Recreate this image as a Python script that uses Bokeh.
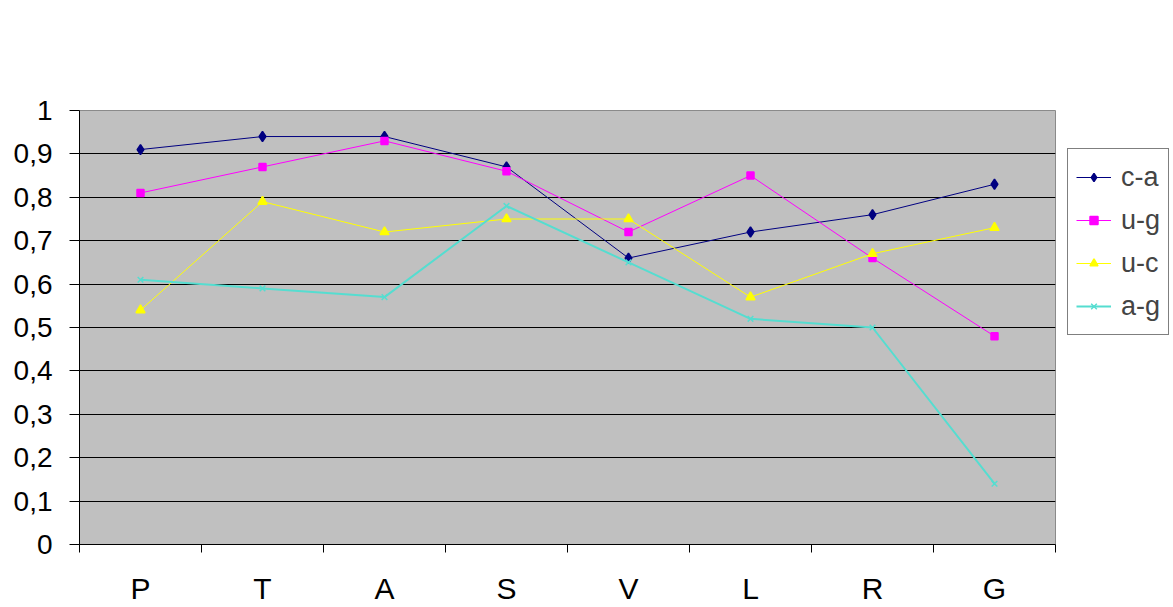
from bokeh.plotting import figure
from bokeh.models import (FixedTicker, CustomJSTickFormatter, Legend, LegendItem, Range1d)
from bokeh.embed import file_html
from bokeh.resources import INLINE

categories = ["P", "T", "A", "S", "V", "L", "R", "G"]
ca = [0.91, 0.94, 0.94, 0.87, 0.66, 0.72, 0.76, 0.83]
ug = [0.81, 0.87, 0.93, 0.86, 0.72, 0.85, 0.66, 0.48]
uc = [0.54, 0.79, 0.72, 0.75, 0.75, 0.57, 0.67, 0.73]
ag = [0.61, 0.59, 0.57, 0.78, 0.65, 0.52, 0.50, 0.14]
series_names = ["c-a", "u-g", "u-c", "a-g"]
y_ticks = [0, 0.1, 0.2, 0.3, 0.4, 0.5, 0.6, 0.7, 0.8, 0.9, 1.0]

n = len(categories)
xs = [i + 0.5 for i in range(n)]
bounds = list(range(n + 1))

FONT = "Liberation Sans"

p = figure(frame_width=976, frame_height=434, output_backend="svg", toolbar_location=None,
           x_range=Range1d(0, n), y_range=Range1d(0, 1),
           min_border_left=79, min_border_top=110, min_border_right=118, min_border_bottom=63,
           background_fill_color="#C0C0C0", border_fill_color="white",
           outline_line_color="#8a8a8a")

# x axis: labels at centres, tick marks at category boundaries
xa = p.xaxis[0]
xa.ticker = FixedTicker(ticks=xs, minor_ticks=bounds)
xa.formatter = CustomJSTickFormatter(args=dict(cats=categories),
                                     code="return cats[Math.floor(tick)];")
xa.major_tick_line_color = None
xa.major_tick_out = 0
xa.major_tick_in = 0
xa.minor_tick_line_color = "black"
xa.minor_tick_out = 8
xa.minor_tick_in = 0
xa.axis_line_color = "black"
xa.major_label_text_font = FONT
xa.major_label_text_font_size = "30px"
xa.major_label_text_color = "black"
xa.major_label_standoff = 19

ya = p.yaxis[0]
ya.ticker = FixedTicker(ticks=y_ticks)
ya.formatter = CustomJSTickFormatter(code="var s=(Math.round(tick*10)/10).toString(); return s.replace('.', ',');")
ya.major_tick_out = 10
ya.major_tick_in = 0
ya.minor_tick_line_color = None
ya.axis_line_color = "black"
ya.major_tick_line_color = "black"
ya.major_label_text_font = FONT
ya.major_label_text_font_size = "28px"
ya.major_label_text_color = "black"
ya.major_label_standoff = 17

p.xgrid.grid_line_color = None
p.ygrid.ticker = FixedTicker(ticks=y_ticks[1:-1])
p.ygrid.grid_line_color = "black"
p.ygrid.grid_line_width = 1

styles = [
    dict(color="#000080", marker="diamond", size=10, lw=1),
    dict(color="#FF00FF", marker="square", size=7, lw=1),
    dict(color="#FFFF00", marker="triangle", size=9, lw=1),
    dict(color="#55DDD0", marker="x", size=8, lw=2),
]
data = [ca, ug, uc, ag]

items = []
for name, vals, st in zip(series_names, data, styles):
    l = p.line(xs, vals, line_color=st["color"], line_width=st["lw"])
    s = p.scatter(xs, vals, marker=st["marker"], size=st["size"],
                  fill_color=st["color"], line_color=st["color"], line_width=1.5)
    items.append(LegendItem(label=name, renderers=[l, s]))

legend = Legend(items=items, location=(12, 209),
                label_text_font=FONT, label_text_font_size="27px",
                glyph_width=35, glyph_height=20, label_height=40,
                spacing=3, padding=8, margin=0, label_standoff=10,
                border_line_color="black", border_line_width=1,
                background_fill_color="white", background_fill_alpha=1)
p.add_layout(legend, "right")

open("out.html", "w").write(file_html(p, INLINE))
